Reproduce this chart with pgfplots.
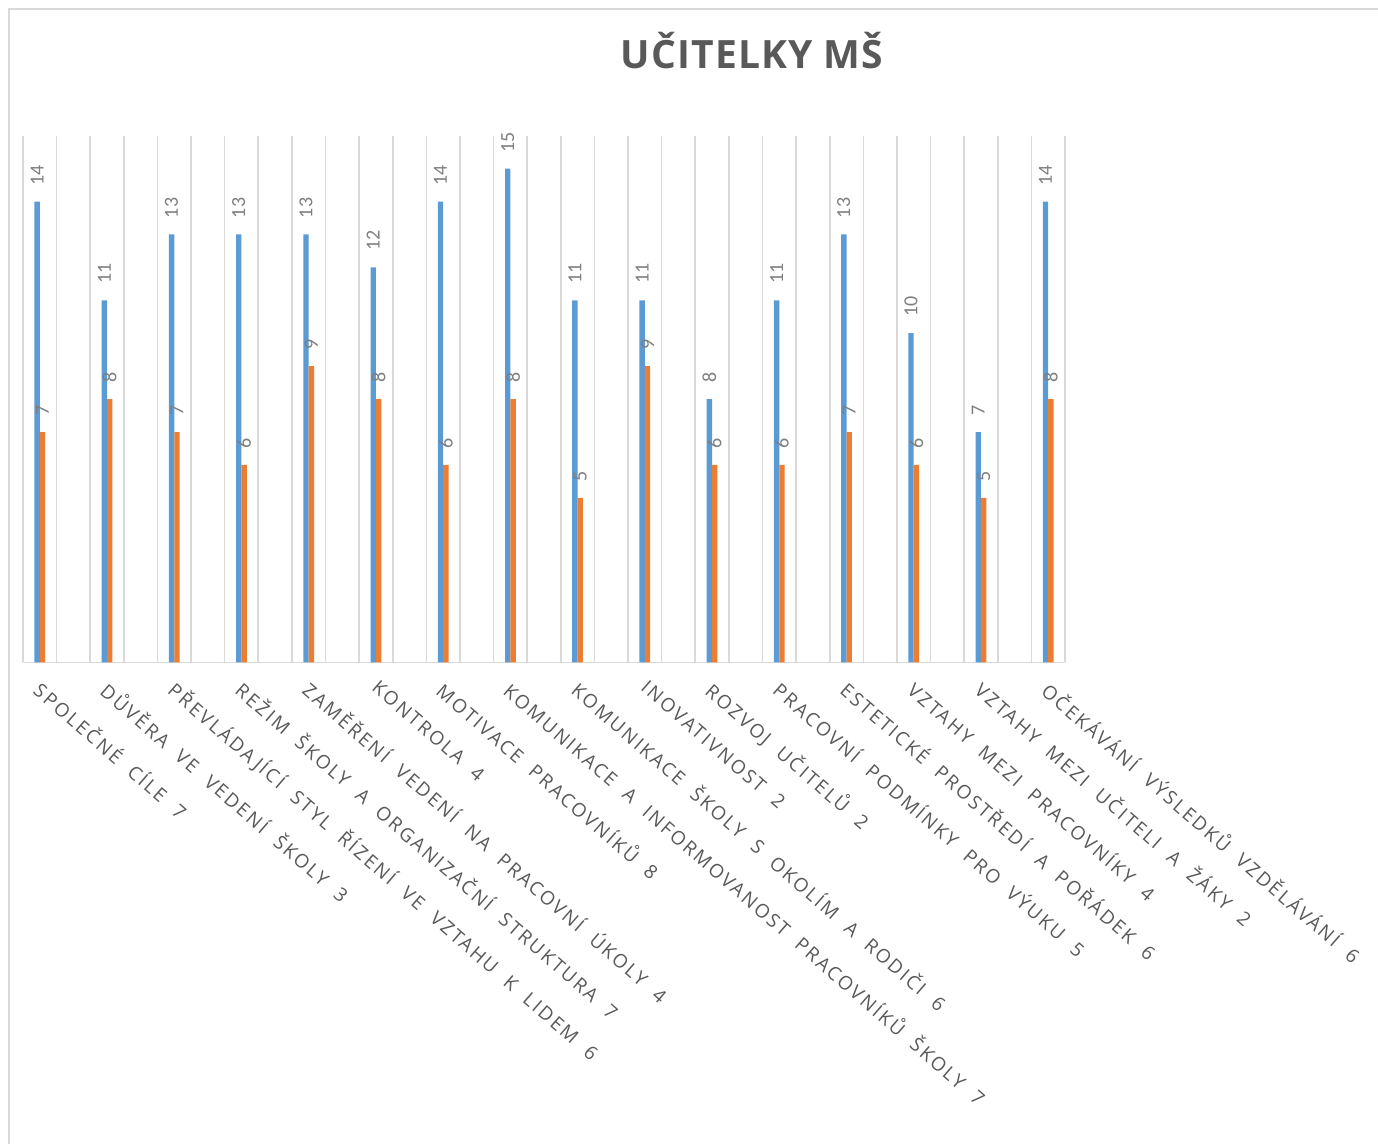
\documentclass[border=0pt]{standalone}
\usepackage{fontspec}
\usepackage{pgfplots}
\pgfplotsset{compat=1.18}
\setmainfont{Open Sans}
\newfontfamily\lbl[LetterSpace=12,WordSpace=2.0]{Open Sans}
\newfontfamily\ttl[LetterSpace=3]{Open Sans}
\newfontfamily\num{Carlito}
\definecolor{gridgray}{HTML}{D9D9D9}
\definecolor{txtgray}{HTML}{595959}
\definecolor{numgray}{HTML}{7F7F7F}
\definecolor{bblue}{HTML}{5B9BD5}
\definecolor{borange}{HTML}{ED7D31}
\begin{document}
\begin{tikzpicture}
\useasboundingbox (-11.5pt,-240.75pt) rectangle (677.5pt,331.25pt);
\draw[gridgray, line width=0.8pt] (-7pt,-240.75pt) -- (-7pt,326.6pt) -- (677.5pt,326.6pt);
\begin{axis}[
  at={(0,0)}, anchor=south west,
  scale only axis, width=521pt, height=263.4pt,
  xmin=-0.5, xmax=30.5, ymin=0, ymax=16,
  axis x line=bottom, axis y line=none,
  x axis line style={draw=gridgray, line width=0.8pt, -},
  ytick=\empty,
  xtick={0,2,...,30},
  xticklabels={SPOLEČNÉ CÍLE 7, DŮVĚRA VE VEDENÍ ŠKOLY 3, PŘEVLÁDAJÍCÍ STYL ŘÍZENÍ VE VZTAHU K LIDEM 6, REŽIM ŠKOLY A ORGANIZAČNÍ STRUKTURA 7, ZAMĚŘENÍ VEDENÍ NA PRACOVNÍ ÚKOLY 4, KONTROLA 4, MOTIVACE PRACOVNÍKŮ 8, KOMUNIKACE A INFORMOVANOST PRACOVNÍKŮ ŠKOLY 7, KOMUNIKACE ŠKOLY S OKOLÍM A RODIČI 6, INOVATIVNOST 2, ROZVOJ UČITELŮ 2, PRACOVNÍ PODMÍNKY PRO VÝUKU 5, ESTETICKÉ PROSTŘEDÍ A POŘÁDEK 6, VZTAHY MEZI PRACOVNÍKY 4, VZTAHY MEZI UČITELI A ŽÁKY 2, OČEKÁVÁNÍ VÝSLEDKŮ VZDĚLÁVÁNÍ 6},
  xtick style={draw=none},
  xticklabel style={xshift=2pt, yshift=-4pt, rotate=-41, anchor=north west, font=\lbl\fontsize{9.5}{11}\selectfont, text=txtgray, inner sep=0pt},
  extra x ticks={-0.5,0.5,...,30.5},
  extra x tick labels={},
  extra x tick style={grid=major, major grid style={draw=gridgray, line width=0.8pt}, major tick length=0pt},
  ybar, bar width=0.16,
  nodes near coords,
  /pgf/number format/assume math mode=true,
  every node near coord/.append style={rotate=90, anchor=west, font=\num\fontsize{10}{12}\selectfont, text=numgray, inner xsep=8pt, inner ysep=0pt},
  clip=false,
]
\addplot[fill=bblue, draw=none, bar shift=-0.08] coordinates {(0,14) (2,11) (4,13) (6,13) (8,13) (10,12) (12,14) (14,15) (16,11) (18,11) (20,8) (22,11) (24,13) (26,10) (28,7) (30,14)};
\addplot[fill=borange, draw=none, bar shift=0.08] coordinates {(0,7) (2,8) (4,7) (6,6) (8,9) (10,8) (12,6) (14,8) (16,5) (18,9) (20,6) (22,6) (24,7) (26,6) (28,5) (30,8)};
\end{axis}
\node[font=\ttl\bfseries\fontsize{19.5}{23}\selectfont, text=txtgray] at (364.5pt,306pt) {UČITELKY MŠ};
\end{tikzpicture}
\end{document}
